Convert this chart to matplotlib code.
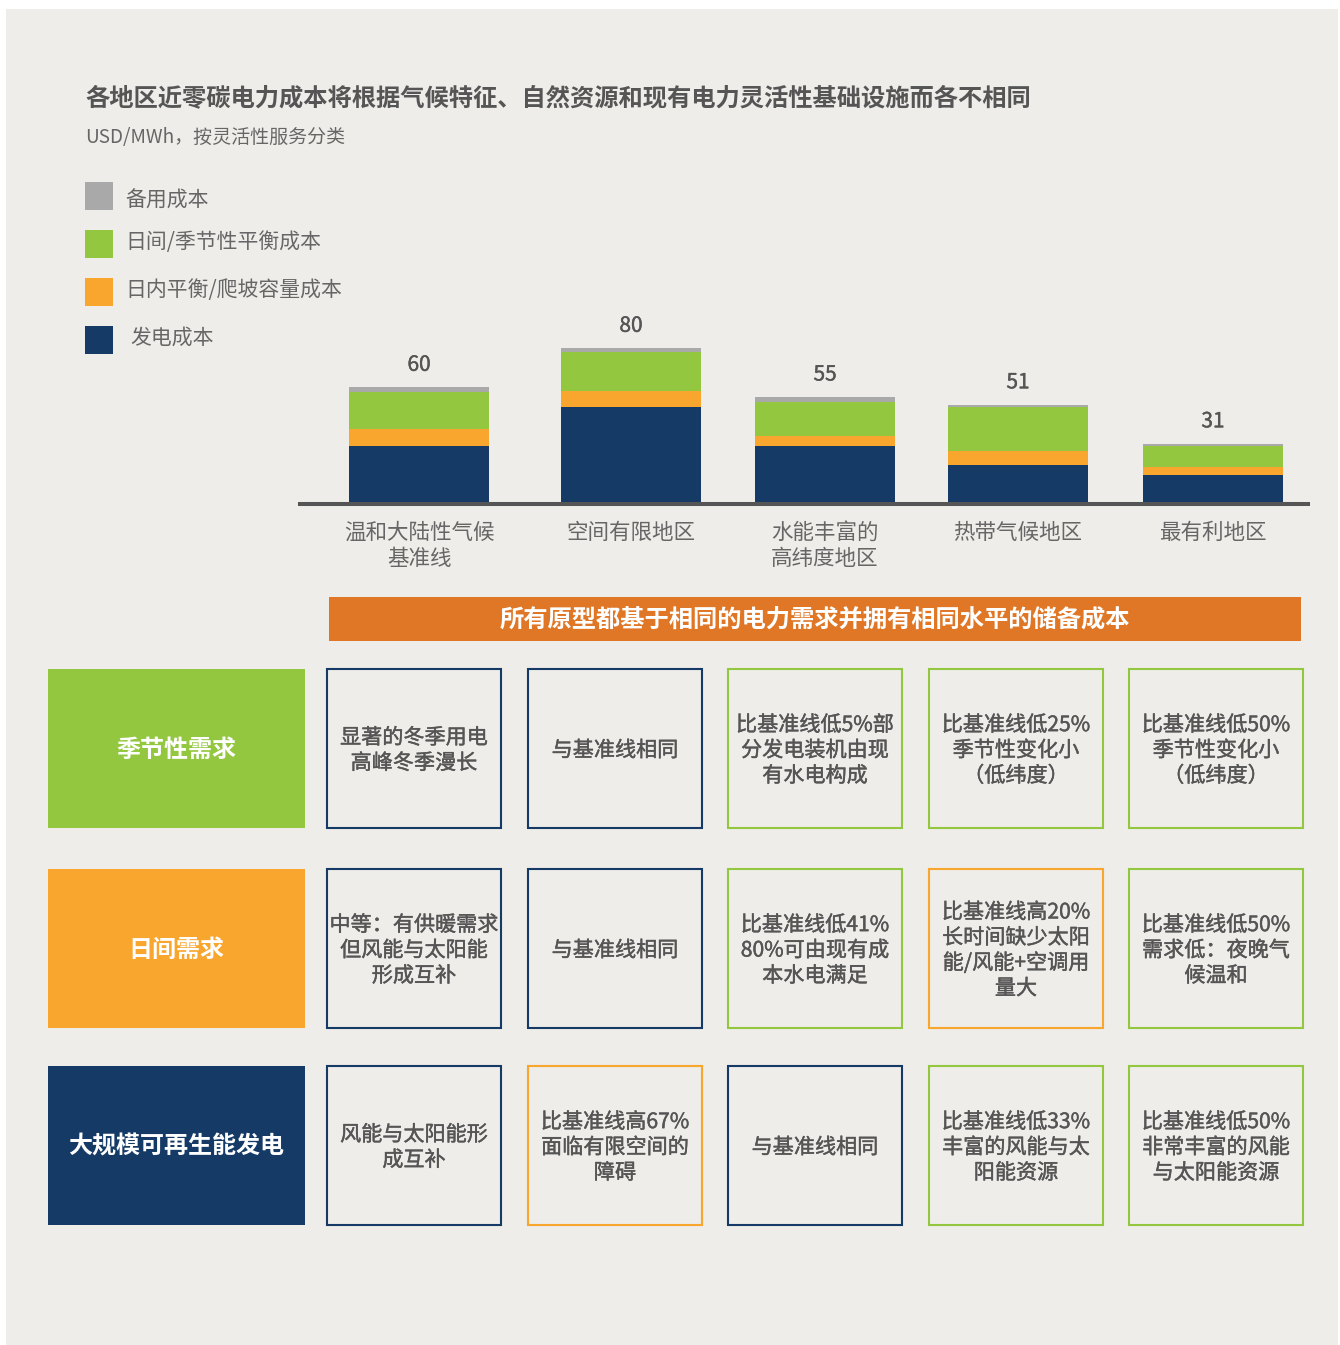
import matplotlib
matplotlib.use("Agg")
import matplotlib.pyplot as plt
from matplotlib.patches import Rectangle
import matplotlib.patheffects as pe

plt.rcParams["font.family"] = ["Noto Sans CJK SC", "DejaVu Sans"]

# ---------------- data ----------------
regions = ["温和大陆性气候\n基准线", "空间有限地区", "水能丰富的\n高纬度地区",
           "热带气候地区", "最有利地区"]
generation = [30.0, 49.5, 29.5, 20.0, 15.0]
intraday = [8.5, 8.5, 5.5, 7.0, 4.0]
seasonal = [19.0, 19.8, 17.5, 23.0, 10.5]
backup = [2.5, 2.2, 2.5, 1.0, 1.5]
totals = [60, 80, 55, 51, 31]

legend_labels = ["备用成本", "日间/季节性平衡成本", "日内平衡/爬坡容量成本", "发电成本"]

title = "各地区近零碳电力成本将根据气候特征、自然资源和现有电力灵活性基础设施而各不相同"
subtitle = "USD/MWh，按灵活性服务分类"
banner = "所有原型都基于相同的电力需求并拥有相同水平的储备成本"

row_headers = ["季节性需求", "日间需求", "大规模可再生能发电"]
cell_texts = [
    ["显著的冬季用电\n高峰冬季漫长", "与基准线相同",
     "比基准线低5%部\n分发电装机由现\n有水电构成",
     "比基准线低25%\n季节性变化小\n（低纬度）",
     "比基准线低50%\n季节性变化小\n（低纬度）"],
    ["中等：有供暖需求\n但风能与太阳能\n形成互补", "与基准线相同",
     "比基准线低41%\n80%可由现有成\n本水电满足",
     "比基准线高20%\n长时间缺少太阳\n能/风能+空调用\n量大",
     "比基准线低50%\n需求低：夜晚气\n候温和"],
    ["风能与太阳能形\n成互补", "比基准线高67%\n面临有限空间的\n障碍", "与基准线相同",
     "比基准线低33%\n丰富的风能与太\n阳能资源",
     "比基准线低50%\n非常丰富的风能\n与太阳能资源"],
]
# comparison with the baseline: 0 = same, -1 = lower cost, 1 = higher cost
cell_status = [
    [0, 0, -1, -1, -1],
    [0, 0, -1, 1, -1],
    [0, 1, 0, -1, -1],
]

# ---------------- styles ----------------
NAVY = "#163a66"
ORANGE = "#f9a62f"
GREEN = "#93c740"
GREY = "#a8a9a8"
BANNER = "#df7727"
BG = "#eeede9"
DARK = "#555555"
MID = "#666666"
status_color = {0: NAVY, -1: GREEN, 1: ORANGE}
header_color = [GREEN, ORANGE, NAVY]

# slightly heavier strokes for the medium-weight texts
medium = [pe.withStroke(linewidth=0.3, foreground=DARK)]

W, H = 1340, 1345
fig = plt.figure(figsize=(W / 100, H / 100), dpi=100, facecolor="white")

# canvas layer in pixel units for background, headings, legend and table
cv = fig.add_axes([0, 0, 1, 1], zorder=0)
cv.set_xlim(0, W)
cv.set_ylim(H, 0)
cv.axis("off")
cv.add_patch(Rectangle((6, 9), 1332, 1336, facecolor=BG, edgecolor="none"))

cv.text(85, 98, title, fontsize=17.5, fontweight="bold", color=DARK,
        ha="left", va="center")
cv.text(85, 138, subtitle, fontsize=13.7, color=MID, ha="left", va="center")

# legend
leg_colors = [GREY, GREEN, ORANGE, NAVY]
leg_top = [182, 230, 278, 326]
leg_text_y = [201, 242, 290, 338]
leg_text_x = [125, 125, 125, 130]
for lab, col, top, tx, ty in zip(legend_labels, leg_colors, leg_top, leg_text_x,
                                 leg_text_y):
    cv.add_patch(Rectangle((85, top), 28, 28, facecolor=col, edgecolor="none"))
    cv.text(tx, ty, lab, fontsize=15, color=MID, ha="left", va="center")

# banner
cv.add_patch(Rectangle((329, 597), 972, 44, facecolor=BANNER, edgecolor="none"))
cv.text(815, 620, banner, fontsize=17.5, fontweight="bold", color="white",
        ha="center", va="center")

# table
row_tops = [669, 869, 1066]
row_h = 159
col_lefts = [327, 528, 728, 929, 1129]
col_w = 174
for r, top in enumerate(row_tops):
    cv.add_patch(Rectangle((48, top), 257, row_h, facecolor=header_color[r],
                           edgecolor="none"))
    cv.text(176, top + row_h / 2 + 1, row_headers[r], fontsize=17.3,
            fontweight="bold", color="white", ha="center", va="center")
    for c, left in enumerate(col_lefts):
        cv.add_patch(Rectangle((left, top), col_w, row_h, fill=False,
                               edgecolor=status_color[cell_status[r][c]], lw=1.5))
        cv.text(left + col_w / 2, top + row_h / 2 + 2, cell_texts[r][c],
                fontsize=15.2, color=DARK, ha="center", va="center",
                linespacing=1.2, path_effects=medium)

# ---------------- stacked bar chart ----------------
px_per_unit = 1.95
base_px, top_px = 504, 300
ax = fig.add_axes([300 / W, 1 - base_px / H, 1008 / W, (base_px - top_px) / H],
                  zorder=2)
ax.set_facecolor("none")
slot = 198.5
xpos = [0, 212 / slot, 406 / slot, 599 / slot, 794 / slot]
bw = 140 / slot
ax.set_xlim(-119 / slot, 889 / slot)
ax.set_ylim(0, (base_px - top_px) / px_per_unit)

bottom = [0.0] * len(totals)
for vals, col in [(generation, NAVY), (intraday, ORANGE), (seasonal, GREEN),
                  (backup, GREY)]:
    ax.bar(xpos, vals, width=bw, bottom=bottom, color=col, edgecolor="none")
    bottom = [b + v for b, v in zip(bottom, vals)]

for x, t in zip(xpos, totals):
    ax.annotate(str(t), xy=(x, t), xytext=(0, 16), textcoords="offset points",
                ha="center", va="center", fontsize=15, color=DARK,
                annotation_clip=False, path_effects=medium)

ax.axhline(0, color=DARK, lw=2.9, zorder=5, clip_on=False)
for s in ax.spines.values():
    s.set_visible(False)
ax.set_yticks([])
ax.set_xticks(xpos)
ax.set_xticklabels(regions, fontsize=15.5, color=MID, linespacing=1.25)
ax.tick_params(axis="x", length=0, pad=13)

fig.savefig("out.png", dpi=100, facecolor="white")
